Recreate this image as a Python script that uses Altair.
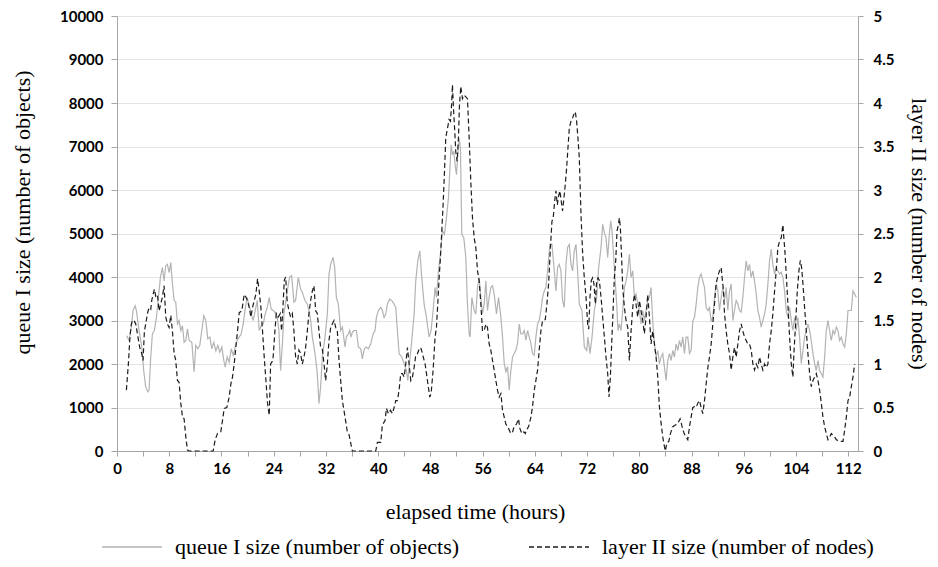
import altair as alt
import pandas as pd

Q_NAME = "queue I size (number of objects)"
L_NAME = "layer II size (number of nodes)"

q_hours = [1.49, 1.85, 2.2, 2.46, 2.77, 2.97, 3.38, 3.79, 4.09, 4.4, 4.71, 4.91, 5.17, 5.42, 5.73, 6.04, 6.34, 6.65, 6.96, 7.21,
           7.47, 7.72, 7.98, 8.24, 8.49, 8.75, 9.0, 9.26, 9.51, 9.77, 10.03, 10.28, 10.54, 10.79, 11.05, 11.46, 11.81, 12.07, 12.38, 12.68,
           12.99, 13.3, 13.6, 13.91, 14.22, 14.52, 14.83, 15.14, 15.44, 15.75, 16.06, 16.36, 16.57, 16.88, 17.18, 17.49, 17.8, 18.1, 18.41, 18.72,
           19.02, 19.33, 19.64, 19.94, 20.25, 20.56, 20.86, 21.17, 21.48, 21.78, 22.09, 22.4, 22.7, 23.01, 23.32, 23.62, 23.93, 24.19, 24.55, 24.8,
           25.06, 25.35, 25.57, 26.08, 26.44, 26.75, 27.1, 27.36, 27.77, 28.13, 28.38, 28.79, 29.15, 29.4, 29.66, 29.92, 30.33, 30.68, 30.94, 31.19,
           31.45, 31.86, 32.22, 32.47, 32.73, 33.09, 33.34, 33.6, 33.9, 34.26, 34.52, 34.93, 35.13, 35.44, 35.64, 35.85, 36.05, 36.31, 36.67, 36.97,
           37.33, 37.58, 37.89, 38.2, 38.5, 38.86, 39.22, 39.53, 39.73, 40.04, 40.4, 40.65, 40.91, 41.16, 41.42, 41.78, 42.08, 42.44, 42.7, 42.95,
           43.21, 43.62, 43.98, 44.33, 44.54, 44.74, 45.15, 45.51, 45.76, 46.07, 46.38, 46.68, 47.04, 47.4, 47.8, 48.11, 48.42, 48.72, 48.93, 49.24,
           49.54, 49.85, 50.16, 50.46, 50.77, 50.97, 51.18, 51.38, 51.59, 51.79, 52.0, 52.2, 52.4, 52.61, 52.81, 53.12, 53.43, 53.68, 53.94, 54.09,
           54.35, 54.71, 54.96, 55.22, 55.47, 55.73, 55.98, 56.24, 56.5, 56.75, 57.0, 57.26, 57.52, 57.77, 58.13, 58.44, 58.8, 59.05, 59.31, 59.56,
           59.82, 60.07, 60.33, 60.59, 60.84, 61.1, 61.35, 61.61, 61.86, 62.12, 62.37, 62.63, 62.89, 63.14, 63.4, 63.65, 63.91, 64.16, 64.42, 64.67,
           64.93, 65.19, 65.44, 65.7, 65.95, 66.31, 66.62, 66.98, 67.23, 67.49, 67.74, 68.0, 68.25, 68.51, 68.77, 69.02, 69.28, 69.53, 69.79, 70.04,
           70.3, 70.55, 70.81, 71.22, 71.58, 71.94, 72.14, 72.45, 72.76, 73.11, 73.47, 73.78, 74.14, 74.39, 74.65, 74.9, 75.16, 75.41, 75.62, 75.82,
           76.08, 76.34, 76.54, 76.74, 76.95, 77.2, 77.46, 77.72, 77.97, 78.23, 78.48, 78.74, 79.0, 79.25, 79.5, 79.76, 80.02, 80.27, 80.53, 80.78,
           81.04, 81.29, 81.55, 81.8, 82.06, 82.32, 82.57, 82.83, 83.08, 83.34, 83.6, 83.85, 84.11, 84.36, 84.62, 84.87, 85.13, 85.38, 85.64, 85.9,
           86.15, 86.41, 86.66, 86.92, 87.17, 87.43, 87.69, 87.94, 88.2, 88.45, 88.71, 88.96, 89.22, 89.47, 89.73, 89.99, 90.24, 90.5, 90.75, 91.0,
           91.26, 91.52, 91.77, 92.03, 92.28, 92.54, 92.8, 93.05, 93.31, 93.56, 93.82, 94.07, 94.33, 94.58, 94.84, 95.1, 95.35, 95.61, 95.86, 96.12,
           96.37, 96.63, 96.88, 97.14, 97.4, 97.65, 97.91, 98.16, 98.42, 98.67, 98.93, 99.19, 99.44, 99.7, 99.95, 100.21, 100.46, 100.72, 100.97, 101.23,
           101.49, 101.74, 102.0, 102.25, 102.51, 102.76, 103.02, 103.28, 103.53, 103.79, 104.04, 104.3, 104.55, 104.81, 105.07, 105.32, 105.58, 105.83, 106.09, 106.34,
           106.6, 106.85, 107.11, 107.37, 107.62, 107.88, 108.13, 108.39, 108.64, 108.9, 109.15, 109.41, 109.67, 109.92, 110.18, 110.43, 110.69, 110.94, 111.2, 111.46,
           111.71, 111.97, 112.22, 112.48, 112.73, 112.99, 113.24]

q_vals = [2650, 2540, 2850, 3230, 3340, 3230, 2770, 2390, 1850, 1470, 1360, 1400, 2160, 2690, 2770, 3070, 3530, 3990, 4220, 3910,
          4260, 4290, 4100, 4330, 3840, 3460, 3420, 2920, 3000, 2770, 2880, 2500, 2540, 2810, 2540, 2500, 1820, 2430, 2350, 2430,
          2770, 3110, 3000, 2580, 2620, 2350, 2500, 2300, 2430, 2270, 2390, 2080, 1930, 2160, 2040, 2350, 2200, 2390, 2540, 2620,
          2690, 2920, 3270, 3530, 3340, 3150, 3000, 3230, 3460, 2770, 2880, 2920, 3150, 3300, 3530, 3260, 3230, 3190, 3070, 2770,
          1850, 2500, 3150, 3680, 4000, 4030, 3420, 3460, 3990, 3720, 3650, 3460, 3380, 3230, 3000, 2620, 2240, 1780, 1090, 1470,
          2160, 2620, 3150, 4070, 4290, 4450, 4220, 3530, 3380, 2770, 2850, 2390, 2620, 2690, 2770, 2620, 2730, 2770, 2770, 2390,
          2350, 2120, 2350, 2390, 2350, 2460, 2690, 2770, 3070, 3230, 3300, 3230, 3070, 3150, 3380, 3490, 3460, 3380, 3300, 2770,
          2240, 2160, 2010, 1850, 1620, 1930, 2540, 3150, 3910, 4370, 4600, 3990, 3380, 3070, 2620, 2770, 3230, 3760, 3530, 4140,
          4520, 5060, 4980, 5360, 5820, 6430, 7040, 6810, 6890, 6580, 6350, 6810, 7190, 6960, 4980, 4900, 4450, 3380, 2690, 2620,
          3530, 3230, 3150, 3760, 3990, 3530, 3150, 3380, 3910, 3230, 3530, 3760, 3800, 3610, 3150, 3530, 3070, 2620, 2010, 1820,
          1940, 1400, 1860, 2160, 2240, 2320, 2470, 2920, 2690, 2690, 2770, 2550, 2770, 2620, 2470, 2240, 2200, 2620, 2920, 3000,
          3230, 3530, 3680, 3760, 4140, 4750, 4750, 4140, 3680, 4220, 4290, 4140, 3460, 3300, 4290, 4680, 4750, 4300, 4140, 4600,
          4750, 4140, 3380, 3230, 2390, 2310, 2620, 2240, 2620, 3230, 3530, 4220, 4680, 5210, 5020, 4900, 4450, 4980, 5290, 5060,
          4450, 3840, 3380, 2770, 2920, 2770, 3230, 3760, 3910, 4140, 4520, 3990, 4140, 3530, 3610, 3380, 3230, 2920, 3230, 3000,
          3230, 3460, 3530, 3760, 2990, 2460, 2160, 2310, 2010, 2160, 2240, 1930, 1620, 2080, 2240, 2080, 2310, 2160, 2460, 2310,
          2540, 2390, 2620, 2240, 2620, 2620, 2240, 2310, 2990, 3070, 3380, 3760, 3990, 4070, 3910, 3760, 3300, 3230, 3300, 2990,
          3070, 3530, 3840, 3680, 3230, 3530, 3760, 3460, 3760, 3230, 3680, 3840, 3000, 3230, 3460, 3380, 3230, 3190, 3530, 3990,
          4370, 4140, 4290, 3990, 4140, 3910, 3610, 3230, 3070, 2850, 3000, 3150, 3380, 3840, 4370, 4640, 4290, 4070, 4220, 4140,
          4070, 4110, 3990, 3680, 3230, 3070, 3300, 3000, 2770, 3070, 2770, 3070, 2620, 2010, 2310, 2620, 2770, 2920, 2770, 2540,
          2240, 2010, 1850, 2080, 1850, 1780, 1700, 2160, 2770, 3000, 2770, 2540, 2770, 2690, 2850, 2770, 2540, 2620, 2460, 2390,
          2690, 3230, 3230, 3230, 3680, 3610, 3530]

l_hours = [1.44, 1.74, 1.95, 2.15, 2.36, 2.61, 2.87, 3.12, 3.48, 3.79, 3.99, 4.2, 4.4, 4.66, 4.91, 5.17, 5.32, 5.53, 5.73, 5.93,
           6.19, 6.45, 6.7, 6.96, 7.21, 7.47, 7.72, 7.98, 8.24, 8.49, 8.75, 9.0, 9.26, 9.51, 9.77, 10.03, 10.28, 10.54, 10.79, 11.05,
           14.73, 15.04, 15.39, 15.9, 16.16, 16.42, 16.82, 17.18, 17.44, 17.69, 17.95, 18.2, 18.46, 18.72, 19.12, 19.48, 19.74, 19.99, 20.25, 20.51,
           20.76, 21.02, 21.27, 21.53, 21.78, 22.04, 22.29, 22.55, 22.81, 23.06, 23.32, 23.53, 23.88, 24.19, 24.4, 24.7, 25.01, 25.21, 25.42, 25.62,
           25.83, 26.08, 26.34, 26.59, 26.85, 27.1, 27.36, 27.62, 27.87, 28.13, 28.38, 28.64, 28.89, 29.15, 29.4, 29.66, 29.92, 30.17, 30.43, 30.68,
           30.94, 31.19, 31.45, 31.71, 31.96, 32.22, 32.47, 32.73, 32.98, 33.24, 33.5, 33.75, 34.01, 34.26, 34.52, 34.93, 35.28, 35.54, 35.8, 36.05,
           39.63, 39.89, 40.4, 40.65, 41.06, 41.27, 41.57, 41.88, 42.19, 42.44, 42.7, 42.95, 43.21, 43.46, 43.72, 43.98, 44.23, 44.49, 44.74, 45.0,
           45.25, 45.51, 45.76, 46.02, 46.28, 46.53, 46.78, 47.19, 47.55, 47.91, 48.11, 48.42, 48.72, 48.93, 49.13, 49.34, 49.54, 49.75, 49.95, 50.16,
           50.36, 50.62, 50.87, 51.08, 51.28, 51.38, 51.54, 51.74, 51.89, 52.1, 52.3, 52.46, 52.66, 52.92, 53.17, 53.43, 53.68, 53.94, 54.19, 54.45,
           54.71, 54.96, 55.22, 55.47, 55.73, 55.98, 56.24, 56.5, 56.75, 57.0, 57.26, 57.52, 57.77, 58.03, 58.28, 58.54, 58.8, 59.05, 59.31, 59.56,
           59.97, 60.33, 60.59, 60.84, 61.2, 61.5, 61.71, 62.02, 62.32, 62.53, 62.73, 63.04, 63.4, 63.65, 63.91, 64.16, 64.42, 64.67, 64.93, 65.19,
           65.6, 65.85, 66.11, 66.36, 66.62, 66.82, 67.03, 67.23, 67.44, 67.64, 67.84, 68.05, 68.25, 68.46, 68.66, 68.87, 69.07, 69.28, 69.53, 69.79,
           70.04, 70.2, 70.4, 70.6, 70.81, 71.07, 71.33, 71.58, 71.84, 72.09, 72.25, 72.45, 72.65, 72.86, 73.06, 73.27, 73.47, 73.68, 73.88, 74.14,
           74.39, 74.65, 74.9, 75.16, 75.36, 75.57, 75.77, 75.98, 76.18, 76.39, 76.59, 76.8, 76.95, 77.1, 77.31, 77.46, 77.72, 77.97, 78.23, 78.48,
           78.74, 79.0, 79.25, 79.5, 79.76, 80.02, 80.27, 80.53, 80.78, 81.04, 81.29, 81.55, 81.8, 82.06, 82.32, 82.57, 82.83, 83.08, 83.34, 83.6,
           83.85, 84.0, 84.21, 84.52, 84.77, 85.13, 85.54, 85.9, 86.25, 86.56, 86.87, 87.17, 87.43, 87.69, 87.94, 88.2, 88.45, 88.71, 88.96, 89.22,
           89.47, 89.73, 89.99, 90.24, 90.5, 90.75, 91.01, 91.26, 91.52, 91.77, 92.03, 92.28, 92.54, 92.69, 92.9, 93.05, 93.31, 93.56, 93.82, 94.07,
           94.33, 94.58, 94.84, 95.1, 95.35, 95.61, 95.86, 96.12, 96.37, 96.63, 96.88, 97.14, 97.4, 97.65, 97.91, 98.16, 98.42, 98.67, 98.93, 99.19,
           99.44, 99.7, 99.95, 100.21, 100.46, 100.72, 100.97, 101.23, 101.49, 101.74, 102.0, 102.1, 102.3, 102.51, 102.76, 103.02, 103.28, 103.53, 103.68, 103.94,
           104.2, 104.45, 104.66, 104.86, 105.07, 105.32, 105.58, 105.83, 106.09, 106.34, 106.6, 106.85, 107.11, 107.37, 107.62, 107.88, 108.13, 108.39, 108.64, 108.9,
           109.15, 109.41, 109.67, 109.92, 110.18, 110.69, 111.2, 111.46, 111.71, 111.97, 112.22, 112.48, 112.73, 112.99]

l_vals = [0.70, 1.0, 1.27, 1.44, 1.5, 1.5, 1.46, 1.35, 1.19, 1.12, 1.04, 1.38, 1.46, 1.58, 1.65, 1.63, 1.73, 1.8, 1.86, 1.78,
          1.8, 1.61, 1.69, 1.77, 1.9, 1.54, 1.46, 1.42, 1.56, 1.38, 1.12, 1.04, 0.81, 0.79, 0.55, 0.39, 0.37, 0.16, 0.01, 0.0,
          0.0, 0.13, 0.2, 0.22, 0.35, 0.49, 0.5, 0.62, 0.77, 0.85, 1.0, 1.19, 1.38, 1.59, 1.61, 1.8, 1.77, 1.73, 1.65, 1.54,
          1.65, 1.73, 1.8, 1.98, 1.84, 1.65, 1.38, 1.08, 0.81, 0.55, 0.41, 1.0, 1.04, 1.38, 1.58, 1.54, 1.58, 1.38, 1.65, 1.96,
          2.0, 1.71, 1.61, 1.54, 1.58, 1.38, 1.08, 1.0, 1.16, 1.12, 1.0, 1.08, 1.19, 1.38, 1.58, 1.73, 1.84, 1.9, 1.61, 1.58,
          1.38, 1.19, 1.17, 1.0, 0.81, 1.0, 1.27, 1.42, 1.46, 1.5, 1.42, 1.38, 1.04, 0.81, 0.58, 0.39, 0.22, 0.19, 0.09, 0.0,
          0.0, 0.1, 0.1, 0.3, 0.35, 0.49, 0.43, 0.47, 0.43, 0.5, 0.58, 0.58, 0.7, 0.89, 0.89, 0.85, 1.0, 1.19, 1.0, 0.81,
          0.85, 0.96, 1.1, 1.12, 1.17, 1.19, 1.12, 1.0, 0.81, 0.62, 0.66, 0.93, 1.31, 1.42, 1.69, 1.99, 2.22, 2.53, 2.83, 3.21,
          3.6, 3.71, 3.81, 3.79, 4.02, 4.21, 3.94, 3.67, 3.44, 3.33, 3.6, 3.98, 4.19, 4.05, 4.09, 4.07, 4.05, 3.6, 3.1, 2.68,
          2.45, 2.34, 2.07, 1.96, 1.69, 1.38, 1.38, 1.46, 1.42, 1.23, 1.16, 1.04, 0.93, 0.81, 0.7, 0.62, 0.66, 0.47, 0.39, 0.31,
          0.26, 0.2, 0.22, 0.28, 0.31, 0.37, 0.26, 0.2, 0.22, 0.2, 0.24, 0.28, 0.39, 0.51, 0.7, 0.81, 0.93, 1.16, 1.38, 1.5,
          1.51, 1.69, 1.92, 2.3, 2.64, 2.68, 2.87, 2.99, 2.83, 2.93, 2.99, 2.87, 2.76, 2.91, 3.06, 3.25, 3.48, 3.71, 3.79, 3.83,
          3.88, 3.9, 3.79, 3.6, 3.37, 2.72, 2.26, 1.99, 1.77, 1.46, 1.4, 1.77, 1.96, 1.99, 1.92, 1.69, 1.96, 1.99, 1.96, 1.77,
          1.54, 1.31, 1.08, 0.89, 0.62, 0.85, 1.23, 1.61, 1.99, 2.19, 2.53, 2.6, 2.68, 2.57, 2.19, 1.88, 1.65, 1.5, 1.42, 1.04,
          1.38, 1.65, 1.8, 1.69, 1.54, 1.73, 1.61, 1.5, 1.35, 1.54, 1.8, 1.54, 1.23, 1.38, 1.23, 1.08, 0.85, 0.51, 0.32, 0.16,
          0.05, 0.0, 0.09, 0.11, 0.2, 0.28, 0.3, 0.32, 0.37, 0.28, 0.2, 0.16, 0.13, 0.28, 0.39, 0.5, 0.51, 0.5, 0.55, 0.58,
          0.5, 0.43, 0.58, 0.77, 0.96, 1.08, 1.23, 1.46, 1.69, 1.92, 2.01, 2.07, 2.11, 1.99, 1.84, 1.58, 1.38, 1.23, 1.12, 0.93,
          1.08, 1.19, 1.08, 1.23, 1.38, 1.46, 1.38, 1.31, 1.27, 1.23, 1.23, 1.16, 1.0, 0.93, 1.0, 0.96, 1.08, 1.0, 0.93, 1.0,
          0.96, 1.0, 1.23, 1.38, 1.58, 1.84, 2.07, 2.34, 2.41, 2.45, 2.6, 2.49, 2.3, 2.03, 1.69, 1.31, 1.0, 0.85, 1.12, 1.46,
          1.84, 2.07, 2.19, 2.11, 1.92, 1.65, 1.38, 1.12, 0.89, 0.74, 0.81, 0.85, 0.89, 0.81, 0.7, 0.55, 0.39, 0.28, 0.2, 0.13,
          0.16, 0.2, 0.18, 0.16, 0.13, 0.11, 0.11, 0.24, 0.39, 0.58, 0.62, 0.74, 0.85, 1.0]

x_ticks = list(range(0, 113, 4))
left_ticks = list(range(0, 10001, 1000))
right_ticks = [0, 0.5, 1, 1.5, 2, 2.5, 3, 3.5, 4, 4.5, 5]

df_q = pd.DataFrame({"hour": q_hours, "value": q_vals, "series": Q_NAME})
df_l = pd.DataFrame({"hour": l_hours, "value": l_vals, "series": L_NAME})

W, H = 741, 435
LABEL_FONT = "Lato"
TITLE_FONT = "Liberation Serif, Times New Roman, DejaVu Serif, serif"

color_scale = alt.Scale(domain=[Q_NAME, L_NAME], range=["#b3b3b3", "#1c1c1c"])
dash_scale = alt.Scale(domain=[Q_NAME, L_NAME], range=[[1, 0], [5, 3]])

legend = alt.Legend(
    title=None, orient="none", legendX=-16, legendY=500, direction="horizontal",
    symbolType="stroke", symbolSize=3600, symbolStrokeWidth=1.3,
    labelFont=TITLE_FONT, labelFontSize=22, labelColor="black", labelLimit=400,
    labelOffset=12, columnPadding=66, padding=0,
)

x_enc = alt.X(
    "hour:Q",
    scale=alt.Scale(domain=[0, 113.5], nice=False, zero=False),
    axis=alt.Axis(
        values=x_ticks, labelExpr="datum.value % 8 == 0 ? datum.label : ''",
        grid=False, title="elapsed time (hours)", titleX=358, titleY=60,
        titleBaseline="middle", titleAlign="center", tickSize=5, labelPadding=5,
        labelOverlap=False, labelFlush=False,
    ),
)

queue_line = alt.Chart(df_q).mark_line(strokeWidth=1.2).encode(
    x=x_enc,
    y=alt.Y(
        "value:Q",
        scale=alt.Scale(domain=[0, 10000], nice=False),
        axis=alt.Axis(
            values=left_ticks, format="d", grid=True, gridColor="#e4e4e4",
            title=Q_NAME, titleX=-95, titleY=196, titleAngle=-90,
            titleBaseline="middle", titleAlign="center", tickSize=6, labelPadding=8,
        ),
    ),
    color=alt.Color("series:N", scale=color_scale, legend=legend),
    strokeDash=alt.StrokeDash("series:N", scale=dash_scale, legend=legend),
)

layer_line = alt.Chart(df_l).mark_line(strokeWidth=1.2).encode(
    x=x_enc,
    y=alt.Y(
        "value:Q",
        scale=alt.Scale(domain=[0, 5], nice=False),
        axis=alt.Axis(
            orient="right", values=right_ticks, format="~g", grid=False,
            title=L_NAME, titleX=60, titleY=H / 2, titleAngle=90,
            titleBaseline="middle", titleAlign="center", tickSize=5, labelPadding=10,
        ),
    ),
    color=alt.Color("series:N", scale=color_scale, legend=legend),
    strokeDash=alt.StrokeDash("series:N", scale=dash_scale, legend=legend),
)

chart = (
    alt.layer(queue_line, layer_line)
    .resolve_scale(y="independent")
    .properties(
        width=W, height=H,
        padding={"left": 109, "top": 8, "right": 72, "bottom": 108},
        autosize=alt.AutoSizeParams(type="none"),
        background="white",
    )
    .configure_view(stroke=None)
    .configure_axis(
        domainColor="#a6a6a6", tickColor="#a6a6a6",
        labelFont=LABEL_FONT, labelFontWeight="bold", labelFontSize=15, labelColor="black",
        titleFont=TITLE_FONT, titleFontSize=22, titleFontWeight="normal", titleColor="black",
    )
)

chart.save("out.html", embed_options={"renderer": "svg", "actions": False})
